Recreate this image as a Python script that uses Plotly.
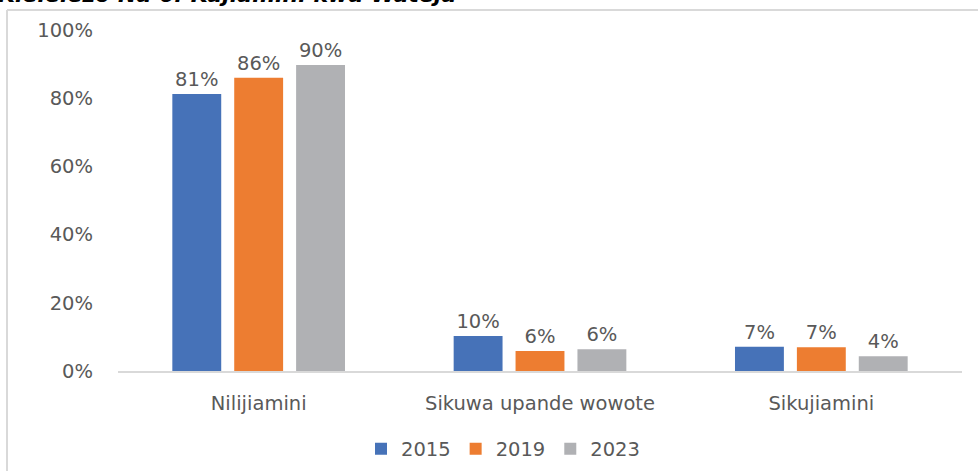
import plotly.graph_objects as go

# Survey responses on self-confidence, share of respondents (%)
categories = ["Nilijiamini", "Sikuwa upande wowote", "Sikujiamini"]
years = ["2015", "2019", "2023"]
values_2015 = [81.2, 10.3, 7.1]
values_2019 = [86.0, 5.9, 7.0]
values_2023 = [89.7, 6.4, 4.3]
series = [values_2015, values_2019, values_2023]
colors = ["#4672B8", "#ED7D31", "#B0B1B4"]

y_ticks = [0, 20, 40, 60, 80, 100]
y_tick_labels = ["0%", "20%", "40%", "60%", "80%", "100%"]
title_text = "Kielelezo Na 6: Kujiamini kwa Wateja"

FONT = "DejaVu Sans"
GREY = "#595959"

fig = go.Figure()
for name, vals, col in zip(years, series, colors):
    fig.add_trace(go.Bar(
        x=categories, y=vals, name=name,
        marker=dict(color=col, line=dict(width=0)),
        texttemplate="%{y:.0f}%", textposition="outside",
        textfont=dict(family=FONT, size=19.5, color=GREY),
        cliponaxis=False,
    ))

W, H = 978, 471
L, R, T, B = 118, 16, 30, 100
pw, ph = W - L - R, H - T - B


def px_x(x):
    return (x - L) / pw


def px_y(y):
    return (H - B - y) / ph


frame = dict(color="#D9D9D9", width=2)

fig.update_layout(
    width=W, height=H,
    margin=dict(l=L, r=R, t=T, b=B, pad=0, autoexpand=False),
    paper_bgcolor="white", plot_bgcolor="white",
    barmode="group", bargap=0.34, bargroupgap=0.21,
    font=dict(family=FONT, size=19.5, color=GREY),
    showlegend=True,
    legend=dict(
        orientation="h", x=px_x(503), y=px_y(449),
        xanchor="center", yanchor="middle",
        font=dict(family=FONT, size=19.5, color=GREY),
        itemwidth=30, traceorder="normal",
    ),
    xaxis=dict(
        showline=True, linecolor="#D9D9D9", linewidth=2,
        showgrid=False, ticks="", ticklabelstandoff=14,
        tickfont=dict(family=FONT, size=19.5, color=GREY),
    ),
    yaxis=dict(
        range=[0, 100], tickmode="array", tickvals=y_ticks, ticktext=y_tick_labels,
        showgrid=False, zeroline=False, showline=False,
        ticks="", ticklabelstandoff=24,
        tickfont=dict(family=FONT, size=19.5, color=GREY),
    ),
    shapes=[
        # outer chart frame: left and top edges
        dict(type="line", xref="paper", yref="paper",
             x0=px_x(7), x1=px_x(7), y0=px_y(H), y1=px_y(10), line=frame),
        dict(type="line", xref="paper", yref="paper",
             x0=px_x(7), x1=px_x(W), y0=px_y(10), y1=px_y(10), line=frame),
    ],
    annotations=[dict(
        text=title_text, xref="paper", yref="paper",
        x=px_x(-4), y=px_y(9), xanchor="left", yanchor="bottom",
        showarrow=False,
        font=dict(family=FONT, size=22, color="black", weight="bold", style="italic"),
    )],
)

fig.write_html("out.html")
